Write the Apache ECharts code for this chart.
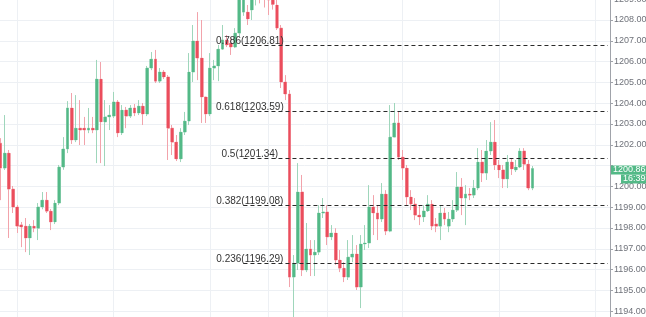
<!DOCTYPE html>
<html><head><meta charset="utf-8">
<script src="https://cdn.jsdelivr.net/npm/echarts@6/dist/echarts.min.js"></script>
<style>html,body{margin:0;padding:0;background:#fff;overflow:hidden}#c{width:646px;height:317px}</style>
</head><body><div id="c"></div>
<script>
const opens=[1202.08,1200.88,1201.60,1199.87,1199.01,1198.15,1198.09,1197.52,1198.09,1197.99,
1199.01,1199.34,1198.81,1198.29,1199.20,1200.93,1201.80,1203.77,1202.23,1202.80,
1202.80,1202.71,1202.80,1202.71,1205.16,1203.10,1203.34,1203.38,1204.06,1202.57,
1203.67,1203.38,1203.77,1203.53,1203.86,1203.48,1205.69,1206.12,1205.06,1205.50,
1205.26,1202.80,1202.13,1201.32,1202.61,1203.14,1205.50,1206.99,1206.17,1204.30,
1203.48,1205.69,1205.79,1206.60,1207.04,1206.89,1206.70,1207.37,1208.38,1208.38,
1208.48,1209.10,1209.50,1209.30,1209.20,1208.96,1208.72,1207.61,1205.02,1204.44,
1195.64,1196.31,1199.73,1195.98,1196.99,1196.70,1196.84,1198.72,1198.77,1197.57,
1197.76,1196.46,1196.07,1195.64,1196.60,1196.75,1195.16,1197.23,1197.28,1199.01,
1198.72,1198.43,1199.63,1197.85,1202.37,1203.05,1201.41,1200.88,1199.49,1199.15,
1198.62,1198.53,1198.82,1199.15,1198.19,1198.09,1198.72,1198.09,1198.43,1198.86,
1199.97,1199.44,1199.63,1199.58,1199.92,1201.17,1200.64,1201.70,1202.13,1201.03,
1200.79,1200.36,1201.17,1200.79,1200.93,1201.70,1201.07,1199.92];
const closes=[1200.88,1201.60,1199.87,1199.01,1198.09,1198.05,1197.52,1198.09,1197.99,1199.01,
1199.34,1198.81,1198.29,1199.20,1200.93,1201.80,1203.77,1202.23,1202.80,1202.71,
1202.71,1202.80,1202.71,1205.16,1203.10,1203.34,1203.43,1204.06,1202.57,1203.67,
1203.38,1203.77,1203.53,1203.86,1203.48,1205.69,1206.12,1205.06,1205.50,1205.26,
1202.80,1202.13,1201.32,1202.61,1203.14,1205.50,1206.99,1206.17,1204.30,1203.48,
1205.69,1205.79,1206.60,1207.04,1206.80,1206.70,1207.37,1209.10,1209.20,1208.05,
1209.10,1209.50,1209.30,1209.10,1208.96,1208.75,1207.61,1205.02,1204.44,1195.64,
1196.31,1199.73,1195.98,1196.99,1196.70,1196.84,1198.72,1198.77,1197.57,1197.76,
1196.46,1196.07,1195.64,1196.60,1196.75,1195.16,1197.23,1197.28,1199.01,1198.72,
1198.43,1199.63,1197.85,1202.37,1203.05,1201.41,1200.88,1199.49,1199.15,1198.62,
1198.53,1198.82,1199.15,1198.09,1198.09,1198.72,1198.43,1198.43,1198.86,1199.97,
1199.44,1199.63,1199.58,1199.92,1201.17,1200.64,1201.70,1202.13,1201.03,1200.79,
1200.36,1201.17,1200.84,1200.93,1201.70,1201.07,1199.92,1200.86];
const lows=[1199.34,1200.79,1197.52,1198.72,1197.76,1197.08,1196.84,1196.70,1197.80,1197.42,
1198.90,1198.72,1197.90,1198.19,1199.10,1200.80,1201.60,1202.04,1202.13,1201.99,
1201.99,1202.56,1202.56,1201.12,1201.12,1200.98,1202.71,1203.29,1202.37,1202.47,
1202.80,1203.29,1203.38,1203.43,1202.95,1203.38,1205.59,1204.97,1204.97,1205.16,
1201.27,1201.51,1201.22,1201.17,1202.47,1202.95,1205.02,1205.11,1203.05,1203.05,
1203.38,1205.11,1205.06,1206.56,1206.70,1206.32,1206.65,1207.20,1208.20,1207.76,
1208.00,1208.70,1208.80,1208.60,1208.24,1208.50,1207.52,1204.73,1204.15,1195.16,
1193.60,1195.98,1195.69,1195.88,1195.69,1195.69,1196.70,1198.48,1197.18,1197.42,
1196.22,1195.88,1195.40,1195.50,1196.36,1195.02,1194.15,1196.94,1197.04,1197.66,
1197.42,1198.29,1197.66,1197.80,1202.47,1201.27,1200.31,1199.10,1198.86,1198.38,
1198.14,1198.29,1198.77,1197.90,1197.80,1197.42,1198.14,1197.80,1198.29,1198.77,
1198.62,1198.14,1199.34,1199.44,1199.82,1200.21,1200.31,1201.51,1200.79,1200.40,
1199.92,1199.92,1200.55,1200.69,1200.88,1200.79,1199.82,1199.82];
const highs=[1202.32,1203.43,1201.75,1200.02,1199.10,1198.29,1198.48,1198.19,1198.38,1199.20,
1199.73,1199.73,1198.91,1199.34,1201.03,1202.37,1204.10,1204.49,1204.39,1204.15,
1203.34,1203.77,1203.34,1206.08,1205.98,1204.15,1203.91,1204.54,1204.15,1203.91,
1203.82,1203.91,1203.96,1204.15,1204.01,1205.79,1206.46,1206.56,1205.69,1205.59,
1205.35,1202.95,1202.47,1202.80,1203.58,1206.41,1207.76,1208.38,1208.00,1204.15,
1206.41,1206.08,1206.80,1207.76,1207.28,1207.18,1207.61,1209.40,1209.50,1208.72,
1209.40,1209.80,1209.90,1209.70,1209.50,1209.20,1209.00,1207.76,1205.35,1204.63,
1196.70,1201.12,1200.55,1198.24,1197.42,1197.42,1199.10,1199.44,1199.10,1198.14,
1197.99,1196.94,1196.36,1197.42,1197.66,1197.18,1197.66,1198.14,1200.06,1199.58,
1199.10,1200.16,1199.82,1203.91,1204.01,1203.58,1201.75,1201.03,1199.82,1199.44,
1199.10,1199.10,1199.58,1199.34,1198.48,1199.10,1198.96,1198.77,1199.34,1200.69,
1200.40,1200.06,1199.92,1200.31,1201.84,1201.75,1202.23,1203.09,1203.19,1201.27,
1201.03,1201.51,1201.36,1201.27,1201.84,1201.84,1201.27,1200.98];

const totalSlots = 146;
const categories = [];
for (let i = 0; i < totalSlots; i++) categories.push('T' + i);

const fibLevels = ['0.786', '0.618', '0.5', '0.382', '0.236'];
const fibPrices = [1206.81, 1203.59, 1201.34, 1199.08, 1196.29];
const fibStartIndex = 58, fibEndIndex = 145, fibLabelIndex = 60;
const timeGridIndices = [4, 27, 50, 64, 78, 96, 119, 142];
const lastPrice = 1200.86;
const countdown = '16:39';
const yMin = 1193, yMax = 1210, yStep = 1;
const hiddenTickLabels = [1201];

const UP = '#53b987', DOWN = '#eb4d5c';
const UP_WICK = '#9fd6bb', DOWN_WICK = '#f2a3ab';
const FONT = '"Liberation Sans", Arial, sans-serif';

const wickData = opens.map((o, i) => [o, closes[i], Math.min(lows[i], o, closes[i]), Math.max(highs[i], o, closes[i])]);
const bodyData = opens.map((o, i) => [o, closes[i], Math.min(o, closes[i]), Math.max(o, closes[i])]);

const fibLines = fibPrices.map(p => [{ coord: [fibStartIndex, p] }, { coord: [fibEndIndex, p] }]);
const fibPoints = fibPrices.map((p, i) => ({
  coord: [fibLabelIndex, p],
  label: { formatter: fibLevels[i] + '(' + p.toFixed(2) + ')' }
}));

const chart = echarts.init(document.getElementById('c'), null, { renderer: 'canvas' });
chart.setOption({
  animation: false,
  backgroundColor: '#ffffff',
  textStyle: { fontFamily: FONT },
  grid: { left: -1.6, right: 36, top: -21.6, bottom: -15, containLabel: false, outerBoundsMode: 'none' },
  xAxis: {
    type: 'category', data: categories, boundaryGap: true,
    axisLine: { show: false }, axisTick: { show: false }, axisLabel: { show: false },
    splitLine: {
      show: true, alignWithLabel: true,
      interval: (idx) => timeGridIndices.indexOf(idx) >= 0,
      lineStyle: { color: '#edf0f4', width: 1 }
    }
  },
  yAxis: {
    type: 'value', position: 'right', min: yMin, max: yMax, interval: yStep, scale: true,
    axisLine: { show: true, lineStyle: { color: '#a0a3aa', width: 1 } },
    axisTick: { show: true, length: 3, lineStyle: { color: '#a0a3aa' } },
    axisLabel: { show: true, margin: 4, fontSize: 9, color: '#6f727a', fontFamily: FONT,
      formatter: v => hiddenTickLabels.indexOf(Math.round(v)) >= 0 ? '' : v.toFixed(2) },
    splitLine: { show: true, lineStyle: { color: '#edf0f4', width: 1 } }
  },
  series: [
    {
      name: 'wicks', type: 'candlestick', data: wickData, barWidth: 2.4,
      itemStyle: { color: UP_WICK, color0: DOWN_WICK, borderColor: UP_WICK, borderColor0: DOWN_WICK, borderWidth: 1 },
      silent: true, z: 2
    },
    {
      name: 'bodies', type: 'candlestick', data: bodyData, barWidth: 3.4,
      itemStyle: { color: UP, color0: DOWN, borderColor: UP, borderColor0: DOWN, borderWidth: 0 },
      silent: true, z: 3,
      markLine: {
        silent: true, symbol: ['none', 'none'], animation: false,
        lineStyle: { color: '#2a2a2a', type: [4, 3], width: 1 },
        label: { show: false },
        data: fibLines
      },
      markPoint: {
        silent: true, symbol: 'circle', symbolSize: 0, animation: false,
        label: { show: true, position: 'inside', offset: [-2, -4], color: '#333', fontSize: 10, fontFamily: FONT },
        data: fibPoints
      }
    },
    {
      name: 'lastPrice', type: 'line', data: [], silent: true, z: 10, zlevel: 1,
      markLine: {
        silent: true, symbol: ['none', 'none'], animation: false,
        lineStyle: { color: 'rgba(0,0,0,0)', width: 0 },
        data: [{
          yAxis: lastPrice,
          label: {
            show: true, position: 'end', distance: 1,
            padding: [12, 0, 0, 0],
            formatter: '{a|' + lastPrice.toFixed(2) + '}\n{b|' + countdown + '}',
            rich: {
              a: { backgroundColor: UP, color: '#fff', fontSize: 9, lineHeight: 9, height: 9, padding: [0, 2, 0, 2], fontFamily: FONT },
              b: { backgroundColor: UP, color: '#fff', fontSize: 9, lineHeight: 9, height: 9, padding: [0, 2, 0, 2], align: 'right', fontFamily: FONT }
            }
          }
        }]
      }
    }
  ]
});
</script></body></html>
